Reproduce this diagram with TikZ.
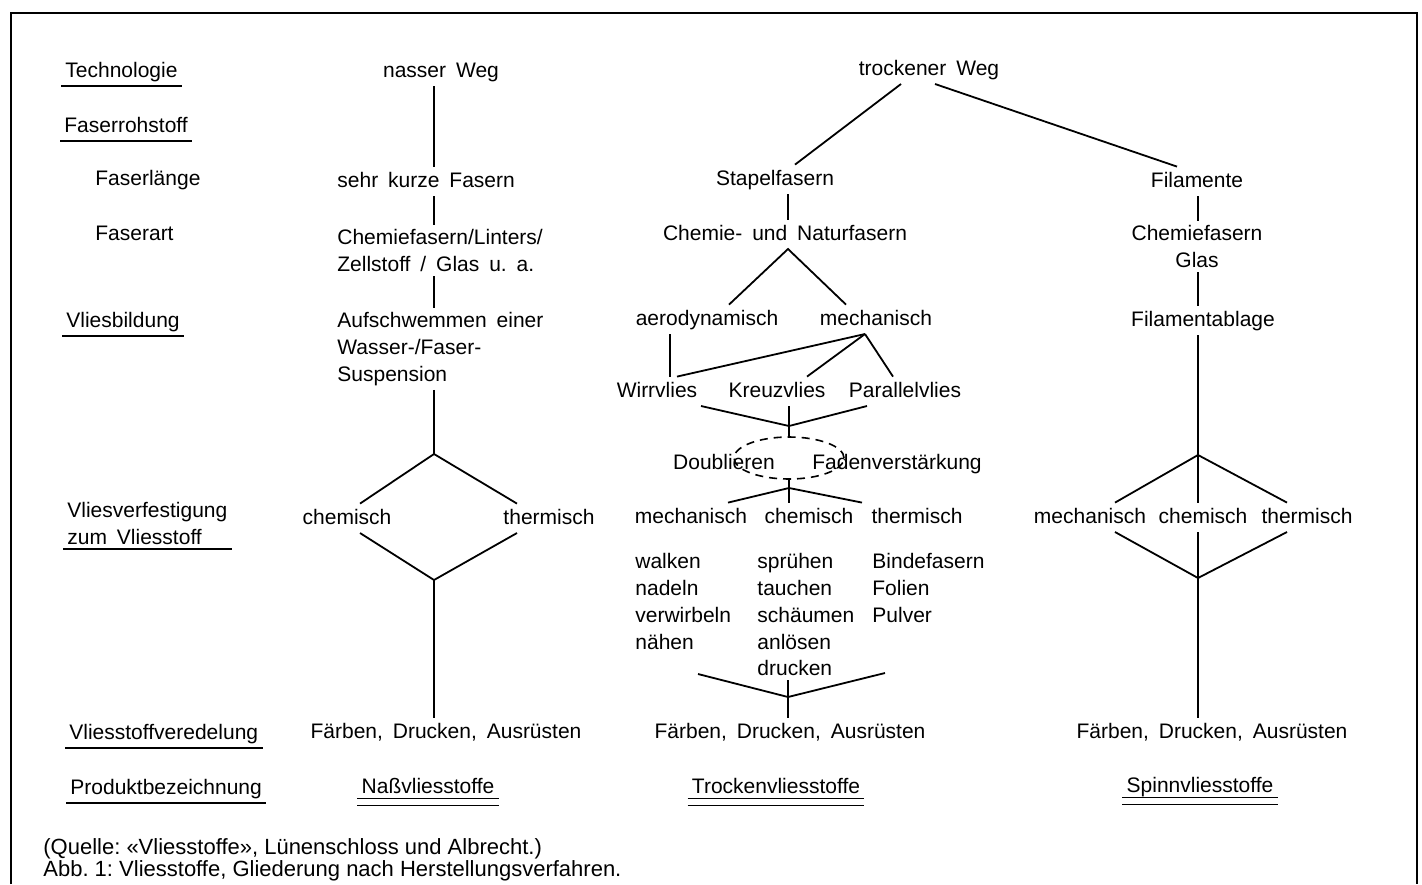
\documentclass[tikz,border=0pt]{standalone}
\usepackage{fontspec}
\setmainfont{Liberation Sans}[WordSpace=1.7]
\newfontfamily\capfont{Liberation Sans}
\usetikzlibrary{shapes.geometric}
\frenchspacing

\begin{document}
\begin{tikzpicture}[x=0.5pt,y=-0.5pt,
    every node/.style={font=\fontsize{10.5}{13.4}\selectfont, inner sep=2pt},
    lbl/.style={anchor=base west, text height=8pt, text depth=2.3pt},
    itm/.style={anchor=base, text height=8pt, text depth=2.3pt},
    lst/.style={anchor=north west, align=left},
    cnx/.style={line width=0.9pt}]
  \useasboundingbox (0,0) rectangle (1422,884);
  \draw[line width=1pt] (11,884) -- (11,13) -- (1417,13) -- (1417,884);

  % left column
  \node[lbl] (tech) at (61,77) {Technologie};
  \node[lbl] (roh) at (60,132) {Faserrohstoff};
  \node[lbl] (laenge) at (91,185) {Faserlänge};
  \node[lbl] (art) at (91,240) {Faserart};
  \node[lbl] (bild) at (62,327) {Vliesbildung};
  \node[lst] (verf) at (63,498) {Vliesverfestigung\\zum Vliesstoff};
  \node[lbl] (vered) at (65,739) {Vliesstoffveredelung};
  \node[lbl] (bez) at (66,794) {Produktbezeichnung};
  \foreach \n in {tech,roh,bild,verf,vered,bez}
    \draw[cnx] (\n.south west) -- (\n.south east);

  % nasser Weg
  \coordinate (wx) at (434,0);
  \node[itm] (nass) at (441,77) {nasser Weg};
  \node[lbl] (kurz) at (333,187) {sehr kurze Fasern};
  \node[lst] (fart) at (333,225) {Chemiefasern/Linters/\\Zellstoff / Glas u. a.};
  \node[lst] (aufs) at (333,308) {Aufschwemmen einer\\Wasser-/Faser-\\Suspension};
  \coordinate (wtop) at (434,454);
  \node[itm] (wchem) at (347,524) {chemisch};
  \node[itm] (wtherm) at (549,524) {thermisch};
  \coordinate (wbot) at (434,580);
  \node[itm] (wfarb) at (446,738) {Färben, Drucken, Ausrüsten};
  \node[itm] (wprod) at (428,793) {Naßvliesstoffe};

  \draw[cnx] (wx |- nass.south) -- (wx |- kurz.north);
  \draw[cnx] (wx |- kurz.south) -- (wx |- fart.north);
  \draw[cnx] (wx |- fart.south) -- (wx |- aufs.north);
  \draw[cnx] (wx |- aufs.south) -- (wtop);
  \draw[cnx] ([xshift=6.5pt]wchem.north) -- (wtop) -- ([xshift=-16pt]wtherm.north);
  \draw[cnx] ([xshift=6.5pt]wchem.south) -- (wbot) -- ([xshift=-16pt]wtherm.south);
  \draw[cnx] (wbot) -- (wbot |- wfarb.north);

  % trockener Weg
  \node[itm] (trock) at (929,75) {trockener Weg};
  \node[itm] (stap) at (775,185) {Stapelfasern};
  \coordinate (mx) at (788,0);
  \node[itm] (chnat) at (785,240) {Chemie- und Naturfasern};
  \node[itm] (aero) at (707,325) {aerodynamisch};
  \node[itm] (mech) at (876,325) {mechanisch};
  \coordinate (ax) at (670,0);
  \node[itm] (wirr) at (657,397) {Wirrvlies};
  \node[itm] (kreuz) at (777,397) {Kreuzvlies};
  \node[itm] (para) at (905,397) {Parallelvlies};
  \node[draw, dashed, ellipse, line width=0.8pt, dash pattern=on 4pt off 3pt,
    minimum width=55pt, minimum height=21pt, inner sep=0pt] (dbl) at (789,458) {};
  \node[itm] (doub) at (724,469) {Doublieren};
  \node[itm] (faden) at (897,469) {Fadenverstärkung};
  \node[itm] (tmech) at (691,523) {mechanisch};
  \node[itm] (tchem) at (809,523) {chemisch};
  \node[itm] (ttherm) at (917,523) {thermisch};
  \node[lst] (tl1) at (631,549) {walken\\nadeln\\verwirbeln\\nähen};
  \node[lst] (tl2) at (753,549) {sprühen\\tauchen\\schäumen\\anlösen\\drucken};
  \node[lst] (tl3) at (868,549) {Bindefasern\\Folien\\Pulver};
  \coordinate (tjl) at (698,674);
  \coordinate (tjr) at (885,673);
  \coordinate (tj) at (788,697);
  \node[itm] (tfarb) at (790,738) {Färben, Drucken, Ausrüsten};
  \node[itm] (tprod) at (776,793) {Trockenvliesstoffe};

  \draw[cnx] ([xshift=-14pt]trock.south) -- ([xshift=10pt]stap.north);
  \draw[cnx] (mx |- stap.south) -- (mx |- chnat.north);
  \draw[cnx] ([xshift=11pt]aero.north) -- (mx |- chnat.south) -- ([xshift=-15pt]mech.north);
  \draw[cnx] (ax |- aero.south) -- (ax |- wirr.north);
  \coordinate (mtop) at ([xshift=-5.5pt]mech.south);
  \draw[cnx] (mtop) -- ([xshift=10pt]wirr.north);
  \draw[cnx] (mtop) -- ([xshift=15pt]kreuz.north);
  \draw[cnx] (mtop) -- ([xshift=-6pt]para.north);
  \coordinate (kj) at (789,426);
  \draw[cnx] ([xshift=22pt]wirr.south) -- (kj) -- ([xshift=-19pt]para.south);
  \draw[cnx] (dbl.north |- kreuz.south) -- (dbl.north);
  \coordinate (dj) at (789,488);
  \draw[cnx] (dbl.south) -- ([xshift=-10pt]tchem.north);
  \draw[cnx] ([xshift=18.5pt]tmech.north) -- (dj) -- ([xshift=-27.5pt]ttherm.north);
  \draw[cnx] (tjl) -- (tj) -- (tjr);
  \draw[cnx] (tj |- tl2.south) -- (tj |- tfarb.north);

  % Filamente
  \node[itm] (fil) at (1197,187) {Filamente};
  \node[anchor=north, align=center] (chfa) at (1197,221) {Chemiefasern\\Glas};
  \coordinate (sx) at (1198,0);
  \node[itm] (fabl) at (1203,326) {Filamentablage};
  \coordinate (stop) at (1198,455);
  \node[itm] (smech) at (1090,523) {mechanisch};
  \node[itm] (schem) at (1203,523) {chemisch};
  \node[itm] (stherm) at (1307,523) {thermisch};
  \coordinate (sbot) at (1198,578);
  \node[itm] (sfarb) at (1212,738) {Färben, Drucken, Ausrüsten};
  \node[itm] (sprod) at (1200,792) {Spinnvliesstoffe};

  \draw[cnx] ([xshift=3pt]trock.south) -- ([xshift=-10pt]fil.north);
  \draw[cnx] (sx |- fil.south) -- (sx |- chfa.north);
  \draw[cnx] (sx |- chfa.south) -- (sx |- fabl.north);
  \draw[cnx] (sx |- fabl.south) -- (sx |- schem.north);
  \draw[cnx] ([xshift=12.5pt]smech.north) -- (stop) -- ([xshift=-10pt]stherm.north);
  \draw[cnx] ([xshift=12.5pt]smech.south) -- (sbot) -- ([xshift=-10pt]stherm.south);
  \draw[cnx] (sx |- schem.south) -- (sx |- sfarb.north);

  % double underlines
  \foreach \n in {wprod,tprod,sprod} {
    \draw[line width=0.8pt] ([yshift=1.8pt]\n.south west) -- ([yshift=1.8pt]\n.south east);
    \draw[line width=0.8pt] ([yshift=-1.7pt]\n.south west) -- ([yshift=-1.7pt]\n.south east);
  }

  % caption
  \node[anchor=north west, align=left, font=\capfont\fontsize{11}{11}\selectfont, inner sep=0pt]
    (cap) at (43,838) {(Quelle: «Vliesstoffe», Lünenschloss und Albrecht.)\\Abb. 1: Vliesstoffe, Gliederung nach Herstellungsverfahren.};
\end{tikzpicture}
\end{document}
